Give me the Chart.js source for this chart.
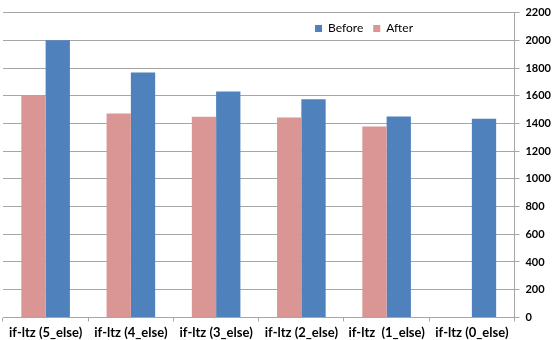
<!DOCTYPE html>
<html>
<head>
<meta charset="utf-8">
<script src="https://cdn.jsdelivr.net/npm/chart.js@4"></script>
<style>
  html, body { margin: 0; padding: 0; background: #fff; }
  #wrap { width: 555px; height: 340px; }
</style>
</head>
<body>
<div id="wrap"><canvas id="chart" width="555" height="340"></canvas></div>
<script>
const categories = ['if-ltz (5_else)', 'if-ltz (4_else)', 'if-ltz (3_else)', 'if-ltz (2_else)', 'if-ltz  (1_else)', 'if-ltz (0_else)']
const beforeValues = [2000, 1768, 1630, 1575, 1450, 1433]
const afterValues = [1600, 1471, 1449, 1442, 1377, null]
const yTicks = [0, 200, 400, 600, 800, 1000, 1200, 1400, 1600, 1800, 2000, 2200]

const gridGray = '#a6a6a6'

// legend sits inside the plot, one row, up near the top right
const legendInside = {
  id: 'legendInside',
  afterInit(chart) {
    chart.legend.isHorizontal = () => true
  },
  afterLayout(chart) {
    const lg = chart.legend
    const area = chart.chartArea
    lg.left = area.left
    lg.right = 423
    lg.top = area.top
  }
}

new Chart(document.getElementById('chart'), {
  type: 'bar',
  data: {
    labels: categories,
    datasets: [
      { label: 'After', data: afterValues, backgroundColor: '#d99694' },
      { label: 'Before', data: beforeValues, backgroundColor: '#4f81bd' }
    ]
  },
  options: {
    responsive: false,
    animation: false,
    layout: { padding: { left: 3, top: 8, right: -2, bottom: -5 } },
    datasets: {
      bar: { categoryPercentage: 0.57, barPercentage: 1 }
    },
    plugins: {
      legend: {
        position: 'chartArea',
        align: 'end',
        reverse: true,
        labels: {
          boxWidth: 7,
          boxHeight: 7,
          padding: 10,
          color: '#000',
          font: { family: 'Lato', size: 12 }
        }
      },
      tooltip: { enabled: false }
    },
    scales: {
      x: {
        grid: {
          offset: true,
          drawOnChartArea: false,
          color: gridGray,
          tickLength: 4
        },
        border: { color: gridGray },
        ticks: {
          color: '#000',
          padding: 4,
          maxRotation: 0,
          autoSkip: false,
          font: { family: 'Lato', size: 13, weight: 'bold' }
        }
      },
      y: {
        position: 'right',
        min: yTicks[0],
        max: yTicks[yTicks.length - 1],
        afterBuildTicks: (scale) => { scale.ticks = yTicks.map(v => ({ value: v })) },
        grid: { color: gridGray, tickLength: 5 },
        border: { color: gridGray },
        ticks: {
          color: '#000',
          padding: 6,
          callback: (v) => String(v),
          font: { family: 'Lato', size: 11, weight: 'bold' }
        }
      }
    }
  },
  plugins: [legendInside]
})
</script>
</body>
</html>
